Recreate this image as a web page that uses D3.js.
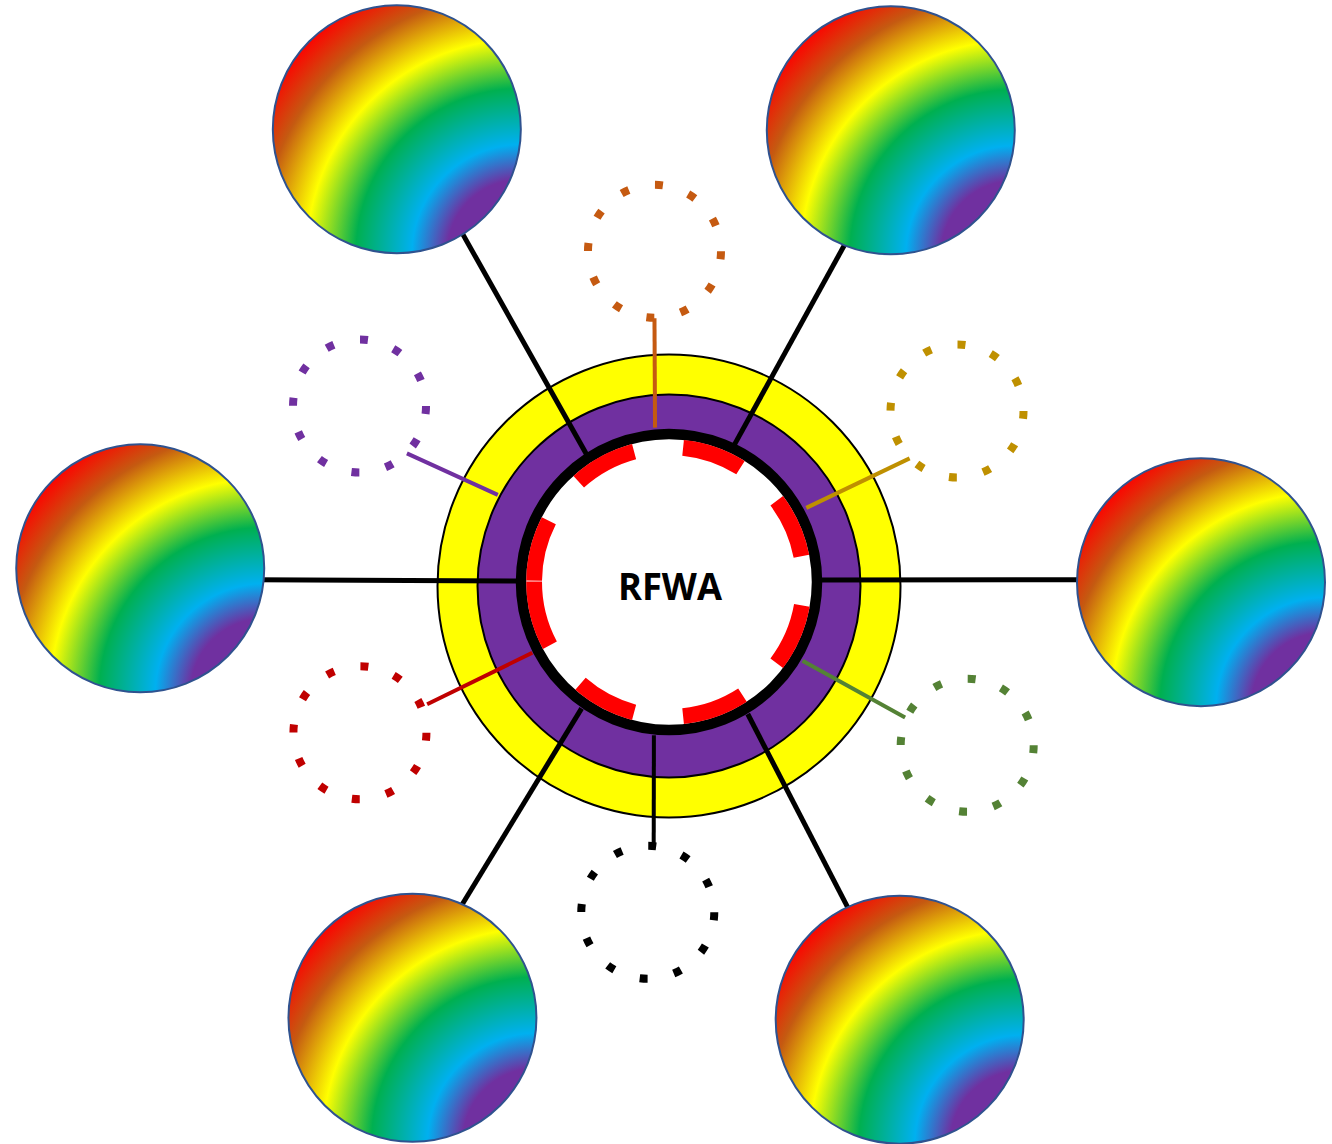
<!DOCTYPE html>
<html>
<head>
<meta charset="utf-8">
<script src="https://cdn.jsdelivr.net/npm/d3@7"></script>
<style>
  body { margin: 0; background: #fff; }
  svg { display: block; }
</style>
</head>
<body>
<div id="chart"></div>
<script>
// hub label
const hubLabel = "RFWA";

// outer bands around the hub (radius)
const bandRadii = [231.5, 191.5];
const bandColors = ["#FFFF00", "#7030A0"];

// red dashes inside the hub ring, [start, end] in degrees clockwise from north
const redDashes = [[270.6, 297], [318, 345], [6, 32], [53, 79], [100, 127], [147, 174], [195, 221], [242, 270.2]];

// rainbow satellites: polar position of each centre
const satAngle = [329.1, 26.05, 271.7, 89.8, 210.6, 152.1];
const satDist = [530, 505, 529, 532, 504, 493];

// black spokes: angle where they touch the hub, angle/dist where they reach the satellite
const spokeInner = [327.5, 25.1, 271.1, 88.5, 215.1, 148.8];
const spokeOuter = [329.5, 27.4, 270.6, 89.4, 212.8, 151.1];
const spokeDist = [405, 382, 405, 408, 382, 369];

// dotted circles: polar centre, connector attach points, colour
const dotNames = ["orange", "gold", "green", "black", "red", "purple"];
const dotAngle = [357.5, 59.0, 118.4, 183.7, 244.3, 299.9];
const dotDist = [333, 336, 339, 329, 343, 357];
const linkHubAngle = [354.9, 61.0, 119.9, 185.7, 243.3, 297.5];
const linkHubDist = [157, 157, 154, 152, 153, 193];
const linkDotAngle = [180, 225, 294, 5, 67, 135];
const linkDotDist = [67, 67, 68, 68, 73, 67];
const dotColors = ["#C55A11", "#BF9000", "#548235", "#000000", "#C00000", "#7030A0"];

const width = 1332, height = 1144;
const cx = 669, cy = 584;
const dotR = 66.5, satR = 124;

const rad = d3.scaleLinear().domain([0, 360]).range([0, 2 * Math.PI]);
const polar = (a, r, ox = cx, oy = cy) => [ox + r * Math.sin(rad(a)), oy - r * Math.cos(rad(a))];

const svg = d3.select("#chart").append("svg")
    .attr("width", width)
    .attr("height", height);

const defs = svg.append("defs");
const grad = defs.append("radialGradient")
    .attr("id", "rainbow")
    .attr("cx", 1).attr("cy", 1).attr("fx", 1).attr("fy", 1)
    .attr("r", 1.414);
[[0, "#7030A0"], [0.21, "#7030A0"], [0.31, "#00B0F0"], [0.47, "#00B050"],
 [0.61, "#FFFF00"], [0.745, "#C55A11"], [0.86, "#FF0000"], [1, "#FF0000"]]
    .forEach(s => grad.append("stop").attr("offset", s[0]).attr("stop-color", s[1]));

// bands
svg.selectAll(".band")
    .data(bandRadii)
    .enter().append("circle")
    .attr("class", "band")
    .attr("cx", cx).attr("cy", cy + 2)
    .attr("r", d => d)
    .attr("fill", (d, i) => bandColors[i])
    .attr("stroke", "#000")
    .attr("stroke-width", 2);

// connectors to dotted circles
const dots = dotNames.map((n, i) => {
    const c = polar(dotAngle[i], dotDist[i]);
    return {
        name: n,
        c: c,
        a: polar(linkHubAngle[i], linkHubDist[i]),
        b: polar(linkDotAngle[i], linkDotDist[i], c[0], c[1]),
        color: dotColors[i]
    };
});

svg.selectAll(".link")
    .data(dots)
    .enter().append("line")
    .attr("class", "link")
    .attr("x1", d => d.a[0]).attr("y1", d => d.a[1])
    .attr("x2", d => d.b[0]).attr("y2", d => d.b[1])
    .attr("stroke", d => d.color)
    .attr("stroke-width", 4);

// spokes
svg.selectAll(".spoke")
    .data(spokeInner)
    .enter().append("line")
    .attr("class", "spoke")
    .attr("x1", d => polar(d, 152)[0])
    .attr("y1", d => polar(d, 152)[1])
    .attr("x2", (d, i) => polar(spokeOuter[i], spokeDist[i] + 8)[0])
    .attr("y2", (d, i) => polar(spokeOuter[i], spokeDist[i] + 8)[1])
    .attr("stroke", "#000")
    .attr("stroke-width", 5);

// hub core
const core = svg.append("g").attr("transform", `translate(${cx},${cy - 2})`);
core.append("circle")
    .attr("r", 148)
    .attr("fill", "#fff")
    .attr("stroke", "#000")
    .attr("stroke-width", 10.5);

const arc = d3.arc().innerRadius(127).outerRadius(142.8);
core.selectAll(".dash")
    .data(redDashes)
    .enter().append("path")
    .attr("class", "dash")
    .attr("d", d => arc({ startAngle: rad(d[0]), endAngle: rad(d[1]) }))
    .attr("fill", "#FF0000");

svg.append("text")
    .attr("x", cx + 1)
    .attr("y", cy + 1)
    .attr("text-anchor", "middle")
    .attr("dominant-baseline", "central")
    .attr("font-family", "Open Sans, Noto Sans, sans-serif")
    .attr("font-weight", 700)
    .attr("font-size", 38)
    .attr("textLength", 104)
    .attr("lengthAdjust", "spacingAndGlyphs")
    .text(hubLabel);

// dotted circles
const circ = 2 * Math.PI * dotR;
svg.selectAll(".dotted")
    .data(dots)
    .enter().append("circle")
    .attr("class", "dotted")
    .attr("cx", d => d.c[0]).attr("cy", d => d.c[1])
    .attr("r", dotR)
    .attr("fill", "none")
    .attr("stroke", d => d.color)
    .attr("stroke-width", 8)
    .attr("stroke-dasharray", `8 ${circ / 12 - 8}`);

// rainbow satellites
svg.selectAll(".sat")
    .data(satAngle)
    .enter().append("circle")
    .attr("class", "sat")
    .attr("cx", (d, i) => polar(d, satDist[i])[0])
    .attr("cy", (d, i) => polar(d, satDist[i])[1])
    .attr("r", satR)
    .attr("fill", "url(#rainbow)")
    .attr("stroke", "#2F528F")
    .attr("stroke-width", 2);
</script>
</body>
</html>
